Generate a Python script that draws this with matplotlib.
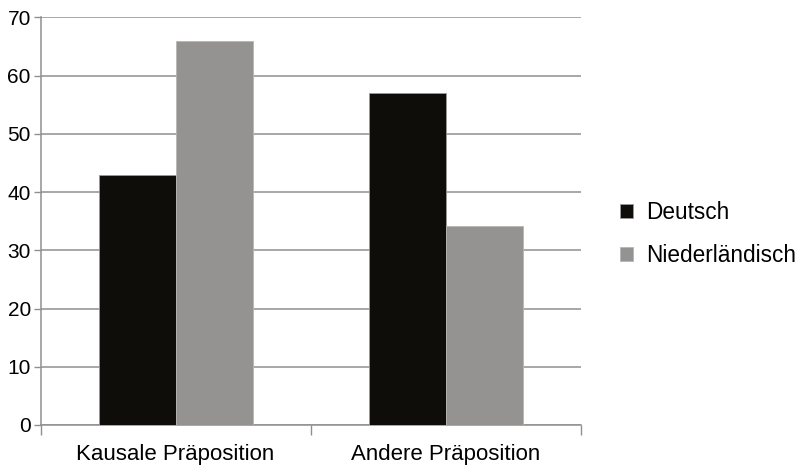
import matplotlib
matplotlib.use("Agg")
import matplotlib.pyplot as plt
import numpy as np

categories = ["Kausale Präposition", "Andere Präposition"]
series_names = ["Deutsch", "Niederländisch"]
deutsch = [43, 57]
niederlaendisch = [66, 34.2]
yticks = [0, 10, 20, 30, 40, 50, 60, 70]

colors = ["#0f0d09", "#949391"]

plt.rcParams['font.family'] = ['Liberation Sans', 'DejaVu Sans']

fig = plt.figure(figsize=(8.06, 4.67), dpi=100)
ax = fig.add_axes([40.5/806, 1-425/467, (581-40.5)/806, (425-17.3)/467])

x = np.arange(len(categories)) + 0.5
w = 0.285
ax.bar(x - w/2, deutsch, w, color=colors[0], edgecolor="#9a9a9a", linewidth=0.6, label=series_names[0], zorder=3)
ax.bar(x + w/2, niederlaendisch, w, color=colors[1], edgecolor="#b5b5b5", linewidth=0.6, label=series_names[1], zorder=3)

ax.set_xlim(0, len(categories))
ax.set_ylim(0, 70)
ax.set_yticks(yticks)
ax.set_yticklabels([str(v) for v in yticks], fontsize=15)
ax.yaxis.grid(True, color="#8f8f8f", linewidth=1.1, zorder=0)
ax.set_axisbelow(True)

ax.set_xticks(np.arange(len(categories) + 1))
ax.set_xticklabels([])
ax.set_xticks(x, minor=True)
ax.set_xticklabels(categories, minor=True, fontsize=16)
ax.tick_params(axis='x', which='minor', length=0, pad=14)
ax.tick_params(axis='x', which='major', length=7, width=1, color="#8f8f8f", direction='out')
ax.tick_params(axis='y', length=5, width=1, color="#8f8f8f", pad=2)

for s in ["top", "right"]:
    ax.spines[s].set_visible(False)
for s in ["left", "bottom"]:
    ax.spines[s].set_color("#8f8f8f")
    ax.spines[s].set_linewidth(1.1)

fig.legend(loc='center left', bbox_to_anchor=(609/806, 1-234/467), frameon=False,
           fontsize=16.3, handlelength=0.55, handleheight=0.55, handletextpad=0.6,
           labelspacing=0.9, borderpad=0)

fig.savefig("out.png", dpi=100)
